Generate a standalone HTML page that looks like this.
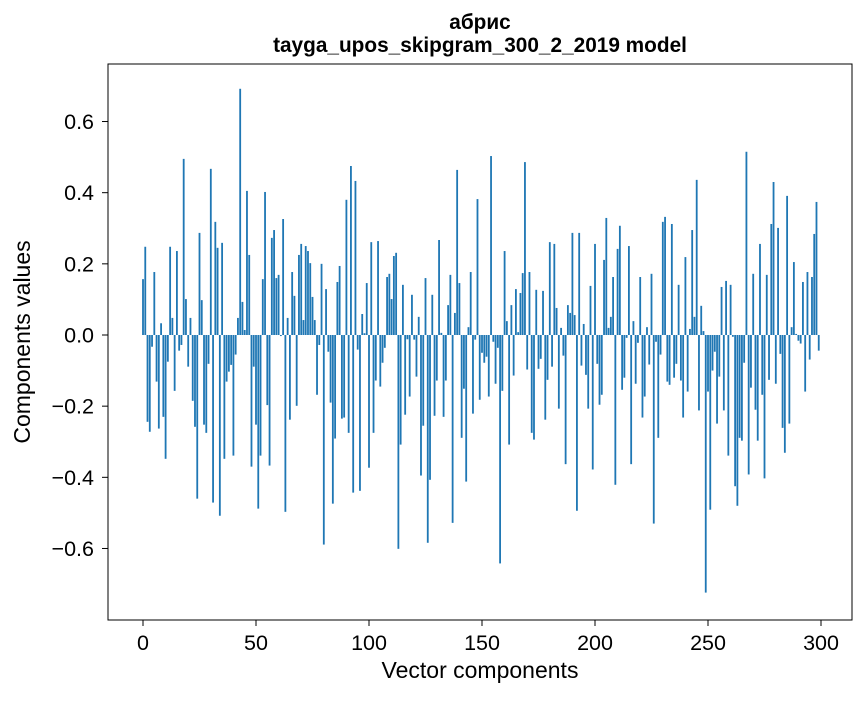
<!DOCTYPE html>
<html><head><meta charset="utf-8"><style>
body{margin:0;background:#fff;}
svg text{font-family:"Liberation Sans","DejaVu Sans",sans-serif;fill:#000;}
</style></head><body>
<svg id="chart" width="867" height="696" xmlns="http://www.w3.org/2000/svg">
<rect width="867" height="696" fill="#fff"/>
<text x="480" y="29" text-anchor="middle" font-size="20.8" font-weight="bold">абрис</text>
<text x="480" y="52" text-anchor="middle" font-size="20.8" font-weight="bold">tayga_upos_skipgram_300_2_2019 model</text>
<g id="bars"></g>
<g id="axes"></g>
<rect x="108" y="64" width="744" height="556" fill="none" stroke="#000" stroke-width="1"/>
<text x="480" y="678" text-anchor="middle" font-size="23">Vector components</text>
<text x="0" y="0" transform="translate(30,342) rotate(-90)" text-anchor="middle" font-size="23">Components values</text>
</svg>
<script>
const values = [
0.157,0.248,-0.244,-0.272,-0.033,0.177,-0.131,-0.263,0.033,-0.23,
-0.348,-0.075,0.248,0.048,-0.157,0.236,-0.044,-0.028,0.495,0.101,
-0.089,0.048,-0.185,-0.258,-0.46,0.287,0.098,-0.252,-0.275,-0.081,
0.467,-0.471,0.318,0.245,-0.508,0.259,-0.348,-0.131,-0.103,-0.084,
-0.339,-0.055,0.048,0.692,0.093,0.014,0.405,0.225,-0.37,-0.089,
-0.252,-0.488,-0.339,0.157,0.402,-0.197,-0.367,0.273,0.295,0.16,
0.169,-0.003,0.326,-0.497,0.048,-0.238,0.177,0.11,-0.199,0.225,
0.256,0.042,0.25,0.236,0.202,0.107,0.042,-0.168,-0.028,0.2,
-0.589,0.129,-0.047,-0.19,-0.474,-0.291,0.149,0.194,-0.235,-0.232,
0.38,-0.275,0.475,-0.443,0.433,-0.041,-0.438,0.059,0.005,0.146,
-0.373,0.261,-0.275,-0.128,0.264,-0.145,-0.078,-0.036,0.163,0.172,
0.101,0.222,0.231,-0.601,-0.308,0.141,-0.224,-0.012,-0.173,0.113,
-0.013,-0.117,0.051,-0.395,-0.255,0.16,-0.584,-0.407,0.113,-0.227,
-0.128,0.267,0.006,-0.23,-0.128,0.084,0.169,-0.528,0.062,0.464,
0.146,-0.289,-0.151,-0.412,0.022,0.177,-0.221,-0.013,0.382,-0.182,
-0.05,-0.078,-0.061,-0.173,0.503,-0.019,-0.137,-0.036,-0.642,-0.157,
0.236,0.039,-0.308,0.084,-0.114,0.129,0.008,0.118,0.174,0.486,
-0.097,0.177,-0.275,-0.294,0.127,-0.095,-0.067,0.124,-0.238,-0.126,
0.261,-0.089,0.256,0.076,-0.207,0.02,-0.058,-0.363,0.084,0.062,
0.287,0.056,-0.494,0.287,-0.086,0.031,-0.112,-0.207,0.138,-0.378,
0.256,-0.081,-0.196,-0.168,0.211,0.329,0.02,0.051,0.163,-0.421,
0.242,0.307,-0.154,-0.12,-0.008,0.25,-0.363,0.039,-0.137,-0.022,
0.163,-0.232,-0.173,0.022,-0.083,0.172,-0.53,-0.019,-0.289,-0.055,
0.318,0.332,-0.131,-0.14,0.312,-0.12,-0.081,0.141,-0.128,-0.232,
0.219,-0.159,0.017,0.295,0.051,0.436,-0.212,0.082,0.011,-0.724,
-0.159,-0.491,-0.1,-0.047,-0.249,-0.117,0.135,-0.212,0.152,-0.339,
0.141,-0.005,-0.425,-0.48,-0.289,-0.297,-0.078,0.515,-0.392,-0.148,
0.172,-0.21,-0.297,0.256,-0.168,-0.403,0.169,-0.126,0.312,0.43,
-0.137,0.301,-0.053,-0.261,-0.331,0.391,-0.249,0.022,0.205,0.003,
-0.016,-0.024,0.149,-0.159,0.177,-0.069,0.163,0.284,0.374,-0.044
];
const xTicks = [0,50,100,150,200,250,300];
const yTicks = [-0.6,-0.4,-0.2,0.0,0.2,0.4,0.6];
const yTickLabels = ["−0.6","−0.4","−0.2","0.0","0.2","0.4","0.6"];

const NS = "http://www.w3.org/2000/svg";
function xs(i){ return 143 + 2.26*i; }
function ys(v){ return 335 - v*355.8; }
const bars = document.getElementById('bars');
values.forEach((v,i)=>{
  const r = document.createElementNS(NS,'rect');
  const y0 = ys(0), y1 = ys(v);
  r.setAttribute('x', xs(i)-0.9);
  r.setAttribute('width', 1.81);
  r.setAttribute('y', Math.min(y0,y1));
  r.setAttribute('height', Math.max(0.3, Math.abs(y1-y0)));
  r.setAttribute('fill', '#1f77b4');
  
  
  bars.appendChild(r);
});
const axes = document.getElementById('axes');
xTicks.forEach(t=>{
  const l = document.createElementNS(NS,'line');
  l.setAttribute('x1', xs(t)); l.setAttribute('x2', xs(t));
  l.setAttribute('y1', 620); l.setAttribute('y2', 626);
  l.setAttribute('stroke', '#000');
  
  
  axes.appendChild(l);
  const tx = document.createElementNS(NS,'text');
  tx.setAttribute('x', xs(t)); tx.setAttribute('y', 650);
  tx.setAttribute('text-anchor', 'middle'); tx.setAttribute('font-size', '21.5');
  tx.textContent = t;
  
  
  axes.appendChild(tx);
});
yTicks.forEach((t,k)=>{
  const l = document.createElementNS(NS,'line');
  l.setAttribute('x1', 102); l.setAttribute('x2', 108);
  l.setAttribute('y1', ys(t)); l.setAttribute('y2', ys(t));
  l.setAttribute('stroke', '#000');
  
  
  axes.appendChild(l);
  const tx = document.createElementNS(NS,'text');
  tx.setAttribute('x', 94); tx.setAttribute('y', ys(t)+7.5);
  tx.setAttribute('text-anchor', 'end'); tx.setAttribute('font-size', '21.5');
  tx.textContent = yTickLabels[k];
  
  
  axes.appendChild(tx);
});
</script>
</body></html>
